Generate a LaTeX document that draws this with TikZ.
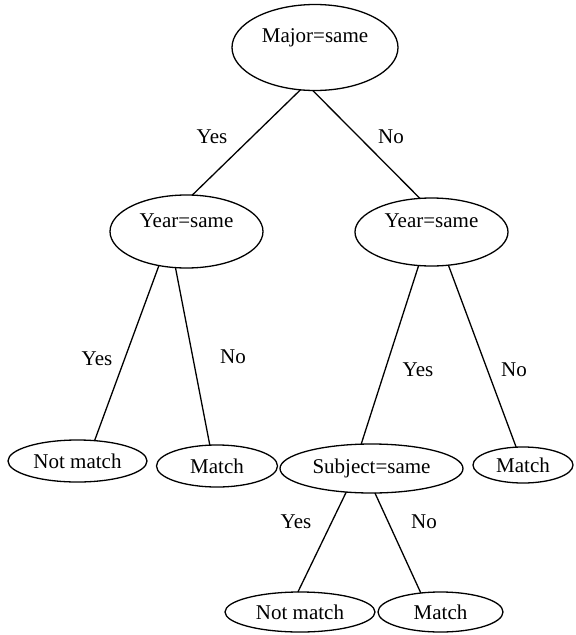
\documentclass[tikz,border=0pt]{standalone}
\usepackage{fontspec}
\setmainfont{Liberation Serif}
\usetikzlibrary{shapes.geometric}

\tikzset{
  tnode/.style={ellipse, draw, line width=1.3pt, inner sep=0pt, outer sep=0pt,
                font=\fontsize{21}{25}\selectfont},
  hightext/.style={text height=15pt, text depth=#1},
  edgelbl/.style={anchor=base, inner sep=0pt, font=\fontsize{21}{25}\selectfont},
  link/.style={line width=1.3pt}
}

\begin{document}
\begin{tikzpicture}[x=1pt, y=-1pt]
  \useasboundingbox (0,0) rectangle (576,635);

  % decision nodes
  \node[tnode, minimum width=166pt, minimum height=86pt, hightext=26pt] (maj) at (315,47.5) {Major=same};
  \node[tnode, minimum width=153pt, minimum height=73pt, hightext=24pt] (yl) at (186.5,231.5) {Year=same};
  \node[tnode, minimum width=153pt, minimum height=68pt, hightext=24pt] (yr) at (431.5,232) {Year=same};
  \node[tnode, minimum width=183pt, minimum height=49pt] (subj) at (371.5,468.5) {Subject=same};

  % outcomes
  \node[tnode, minimum width=139pt, minimum height=42pt] (nm1) at (77.5,461) {Not match};
  \node[tnode, minimum width=121pt, minimum height=42pt] (m1) at (217,466) {Match};
  \node[tnode, minimum width=100pt, minimum height=36pt] (m2) at (523,465) {Match};
  \node[tnode, minimum width=150pt, minimum height=40pt] (nm2) at (300,612) {Not match};
  \node[tnode, minimum width=125pt, minimum height=40pt] (m3) at (440.5,612) {Match};

  % branches
  \draw[link] (maj.251) -- (yl.81);
  \draw[link] (maj.267) -- (yr.109);
  \draw[link] (yl.231) -- (nm1.50);
  \draw[link] (yl.253) -- (m1.109);
  \draw[link] (yr.249) -- (subj.113);
  \draw[link] (yr.297) -- (m2.111);
  \draw[link] (subj.223) -- (nm2.96);
  \draw[link] (subj.278) -- (m3.136);

  % branch labels
  \node[edgelbl] (ly1) at (212,143) {Yes};
  \node[edgelbl] (ln1) at (391,143) {No};
  \node[edgelbl] (ly2) at (97,365) {Yes};
  \node[edgelbl] (ln2) at (233,363) {No};
  \node[edgelbl] (ly3) at (418,376) {Yes};
  \node[edgelbl] (ln3) at (514,376) {No};
  \node[edgelbl] (ly4) at (296,528) {Yes};
  \node[edgelbl] (ln4) at (424,528) {No};
\end{tikzpicture}
\end{document}
